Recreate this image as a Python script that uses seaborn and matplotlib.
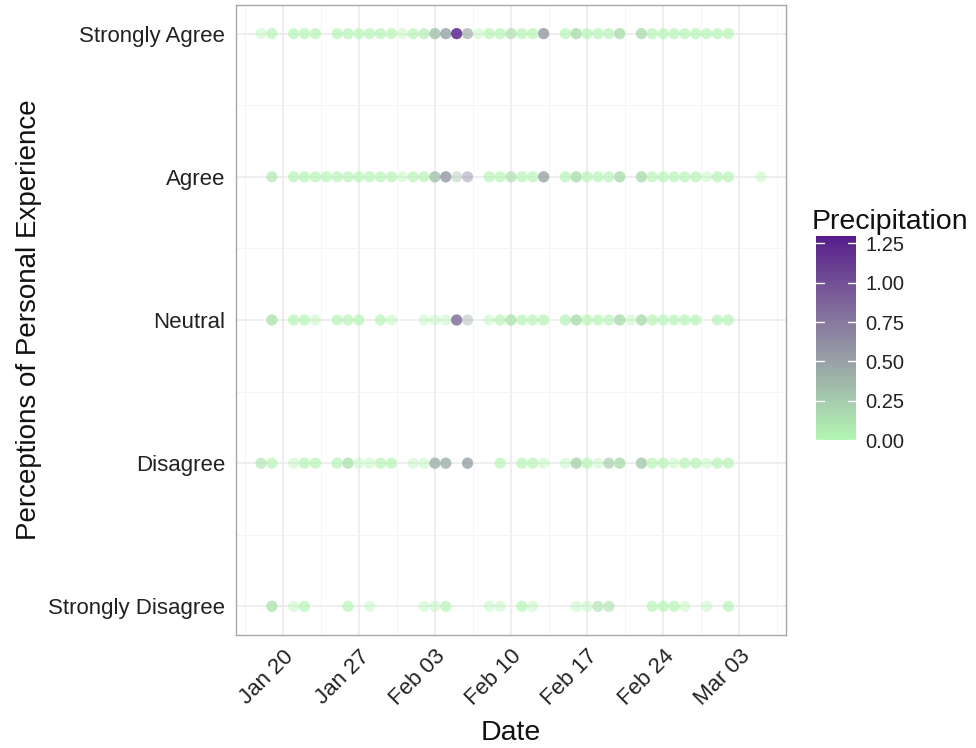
import numpy as np
import pandas as pd
import matplotlib
matplotlib.use("Agg")
import matplotlib.pyplot as plt
import matplotlib.dates as mdates
from matplotlib.colors import ListedColormap, Normalize, to_rgb
from matplotlib.ticker import FixedLocator
import seaborn as sns

YEAR = "2019-"
levels = ["Strongly Disagree", "Disagree", "Neutral", "Agree", "Strongly Agree"]
tick_dates = ["01-20", "01-27", "02-03", "02-10", "02-17", "02-24", "03-03"]
cbar_ticks = [0.00, 0.25, 0.50, 0.75, 1.00, 1.25]

# ---- Strongly Agree ----
sa_dates = ["01-18", "01-19", "01-21", "01-22", "01-23", "01-25", "01-26", "01-27", "01-28", "01-29",
            "01-30", "01-31", "02-01", "02-02", "02-03", "02-04", "02-05", "02-06", "02-07", "02-08",
            "02-09", "02-10", "02-11", "02-12", "02-13", "02-15", "02-16", "02-17", "02-18", "02-19",
            "02-20", "02-22", "02-23", "02-24", "02-25", "02-26", "02-27", "02-28", "03-01", "03-02"]
sa_precip = [0, 0, 0, 0, 0, 0, 0, 0, 0, 0,
             0, 0, 0, 0.05, 0.3, 0.5, 1.3, 0.45, 0, 0,
             0, 0.15, 0, 0, 0.55, 0, 0.15, 0, 0, 0,
             0.15, 0.15, 0, 0, 0, 0, 0, 0, 0, 0]
sa_count = [1, 2, 2, 2, 2, 2, 2, 2, 2, 2,
            2, 1, 2, 2, 3, 3, 3, 2, 1, 2,
            2, 2, 2, 2, 3, 2, 3, 2, 2, 2,
            3, 3, 2, 2, 2, 2, 2, 2, 2, 2]

# ---- Agree ----
ag_dates = ["01-19", "01-21", "01-22", "01-23", "01-24", "01-25", "01-26", "01-27", "01-28", "01-29",
            "01-30", "01-31", "02-01", "02-02", "02-03", "02-04", "02-05", "02-06", "02-08", "02-09",
            "02-10", "02-11", "02-12", "02-13", "02-15", "02-16", "02-17", "02-18", "02-19", "02-20",
            "02-22", "02-23", "02-24", "02-25", "02-26", "02-27", "02-28", "03-01", "03-02", "03-05"]
ag_precip = [0.1, 0, 0, 0, 0, 0, 0, 0, 0, 0,
             0, 0, 0, 0, 0.3, 0.55, 0.3, 0.75, 0, 0,
             0.15, 0, 0, 0.5, 0, 0.15, 0, 0, 0, 0.15,
             0.15, 0, 0, 0, 0, 0, 0, 0, 0, 0]
ag_count = [2, 2, 2, 2, 2, 2, 2, 2, 2, 2,
            2, 1, 2, 2, 3, 3, 1, 1, 2, 2,
            2, 2, 2, 3, 2, 3, 2, 2, 2, 3,
            3, 2, 2, 2, 2, 2, 1, 2, 2, 1]

# ---- Neutral ----
ne_dates = ["01-19", "01-21", "01-22", "01-23", "01-25", "01-26", "01-27", "01-29", "01-30", "02-02",
            "02-03", "02-04", "02-05", "02-06", "02-08", "02-09", "02-10", "02-11", "02-12", "02-13",
            "02-15", "02-16", "02-17", "02-18", "02-19", "02-20", "02-21", "02-22", "02-23", "02-24",
            "02-25", "02-26", "02-27", "03-01", "03-02"]
ne_precip = [0.1, 0, 0, 0, 0, 0, 0, 0, 0, 0,
             0, 0, 0.85, 0.45, 0, 0, 0.1, 0, 0, 0,
             0, 0.15, 0, 0, 0, 0.15, 0, 0.15, 0, 0,
             0, 0, 0, 0, 0]
ne_count = [3, 2, 2, 1, 2, 2, 2, 2, 1, 1,
            1, 1, 3, 1, 1, 2, 3, 2, 2, 2,
            2, 3, 2, 2, 2, 3, 1, 3, 2, 2,
            2, 2, 2, 2, 2]

# ---- Disagree ----
di_dates = ["01-18", "01-19", "01-21", "01-22", "01-23", "01-25", "01-26", "01-27", "01-28", "01-29",
            "01-30", "02-01", "02-02", "02-03", "02-04", "02-06", "02-09", "02-11", "02-12", "02-13",
            "02-15", "02-16", "02-17", "02-18", "02-19", "02-20", "02-22", "02-23", "02-24", "02-25",
            "02-26", "02-27", "02-28", "03-01", "03-02"]
di_precip = [0.1, 0, 0, 0, 0, 0, 0.1, 0, 0, 0,
             0, 0, 0, 0.4, 0.4, 0.5, 0, 0, 0, 0,
             0, 0.2, 0, 0, 0.25, 0.15, 0.25, 0, 0, 0,
             0, 0, 0, 0, 0]
di_count = [2, 2, 1, 2, 2, 2, 3, 1, 1, 2,
            2, 1, 1, 3, 3, 3, 2, 2, 2, 1,
            1, 3, 2, 1, 2, 3, 3, 2, 2, 1,
            2, 2, 1, 2, 2]

# ---- Strongly Disagree ----
sd_dates = ["01-19", "01-21", "01-22", "01-26", "01-28", "02-02", "02-03", "02-04", "02-08", "02-09",
            "02-11", "02-12", "02-16", "02-17", "02-18", "02-19", "02-23", "02-24", "02-25", "02-26",
            "02-28", "03-02"]
sd_precip = [0.1, 0, 0, 0, 0, 0, 0, 0, 0, 0,
             0, 0, 0, 0, 0.1, 0.1, 0, 0, 0, 0,
             0, 0]
sd_count = [3, 1, 2, 2, 1, 1, 1, 2, 1, 1,
            2, 1, 1, 1, 2, 2, 2, 2, 2, 1,
            1, 2]

rows = [
    ("Strongly Agree", sa_dates, sa_precip, sa_count),
    ("Agree", ag_dates, ag_precip, ag_count),
    ("Neutral", ne_dates, ne_precip, ne_count),
    ("Disagree", di_dates, di_precip, di_count),
    ("Strongly Disagree", sd_dates, sd_precip, sd_count),
]

frames = []
for lvl, d, p, n in rows:
    frames.append(pd.DataFrame({
        "date": pd.to_datetime([YEAR + s for s in d]),
        "level": lvl,
        "precip": p,
        "n": n,
    }))
df = pd.concat(frames, ignore_index=True)
df["y"] = df["level"].map({l: i + 1 for i, l in enumerate(levels)})
df_rep = df.loc[df.index.repeat(df["n"])].reset_index(drop=True)


# ---- colour scale: light green -> purple interpolated in Lab (ggplot style) ----
def _lin(c):
    c = np.asarray(c)
    return np.where(c <= 0.04045, c / 12.92, ((c + 0.055) / 1.055) ** 2.4)


def _gam(c):
    c = np.clip(c, 0, 1)
    return np.where(c <= 0.0031308, 12.92 * c, 1.055 * c ** (1 / 2.4) - 0.055)


M = np.array([[0.4124, 0.3576, 0.1805], [0.2126, 0.7152, 0.0722], [0.0193, 0.1192, 0.9505]])
WP = np.array([0.95047, 1.0, 1.08883])


def to_lab(rgb):
    xyz = M @ _lin(rgb) / WP
    f = np.where(xyz > 0.008856, np.cbrt(xyz), 7.787 * xyz + 16 / 116)
    return np.array([116 * f[1] - 16, 500 * (f[0] - f[1]), 200 * (f[1] - f[2])])


def from_lab(lab):
    fy = (lab[0] + 16) / 116
    fx = fy + lab[1] / 500
    fz = fy - lab[2] / 200
    f = np.array([fx, fy, fz])
    xyz = np.where(f ** 3 > 0.008856, f ** 3, (f - 16 / 116) / 7.787) * WP
    return _gam(np.linalg.solve(M, xyz))


lab_lo = to_lab(to_rgb("#b2f6b2"))
lab_hi = to_lab(to_rgb("#551a8b"))
cmap = ListedColormap([from_lab(lab_lo + t * (lab_hi - lab_lo)) for t in np.linspace(0, 1, 256)])
norm = Normalize(vmin=0, vmax=df["precip"].max())

# ---- figure ----
sns.set_style("white")
plt.rcParams["font.family"] = ["Liberation Sans", "DejaVu Sans"]

fig = plt.figure(figsize=(9.76, 7.48), dpi=100)
ax = fig.add_axes([236 / 976, 1 - 635 / 748, (786 - 236) / 976, (635 - 5) / 748])

sns.scatterplot(data=df_rep, x="date", y="y", hue="precip", palette=cmap, hue_norm=norm,
                s=64, alpha=0.42, linewidth=0, legend=False, ax=ax, zorder=3)

dmin, dmax = mdates.date2num(df["date"].min()), mdates.date2num(df["date"].max())
rng = dmax - dmin
ax.set_xlim(dmin - 0.05 * rng, dmax + 0.05 * rng)
ax.set_ylim(0.8, 5.2)

tick_nums = mdates.date2num(pd.to_datetime([YEAR + s for s in tick_dates]))
ax.xaxis.set_major_locator(FixedLocator(tick_nums))
ax.xaxis.set_major_formatter(mdates.DateFormatter("%b %d"))
minor_x = np.concatenate([[tick_nums[0] - 3.5], tick_nums + 3.5])
ax.xaxis.set_minor_locator(FixedLocator(minor_x))
ax.set_yticks(range(1, 6))
ax.set_yticklabels(levels)
ax.yaxis.set_minor_locator(FixedLocator([1.5, 2.5, 3.5, 4.5]))

ax.grid(which="major", color="#ebebeb", linewidth=1.2, zorder=0)
ax.grid(which="minor", color="#f4f4f4", linewidth=0.7, zorder=0)
ax.set_axisbelow(True)
for sp in ax.spines.values():
    sp.set_color("#a8a8a8")
    sp.set_linewidth(1.0)

ax.tick_params(which="major", length=4, width=0.9, color="#333333", labelsize=16,
               labelcolor="#222222", pad=4)
ax.tick_params(which="minor", length=0)
plt.setp(ax.get_xticklabels(), rotation=45, ha="right", rotation_mode="anchor")

ax.set_xlabel("Date", fontsize=20.5, color="#111111", labelpad=7)
ax.set_ylabel("Perceptions of Personal Experience", fontsize=20, color="#111111", labelpad=4)

# ---- colourbar legend ----
cax = fig.add_axes([816 / 976, 1 - 440 / 748, 40 / 976, 204.5 / 748])
cb = fig.colorbar(plt.cm.ScalarMappable(norm=norm, cmap=cmap), cax=cax, ticks=cbar_ticks)
cb.outline.set_visible(False)
cax.set_yticklabels([f"{t:.2f}" for t in cbar_ticks])
cax.tick_params(length=0, labelsize=14.5, labelcolor="#222222", pad=7)
for t in cbar_ticks:
    cax.plot([0, 0.2], [t, t], color="white", lw=1, transform=cax.get_yaxis_transform())
    cax.plot([0.8, 1], [t, t], color="white", lw=1, transform=cax.get_yaxis_transform())
fig.text(812 / 976, 1 - 229 / 748, "Precipitation", fontsize=20.5, color="#111111",
         ha="left", va="baseline")

fig.savefig("out.png", dpi=100)
